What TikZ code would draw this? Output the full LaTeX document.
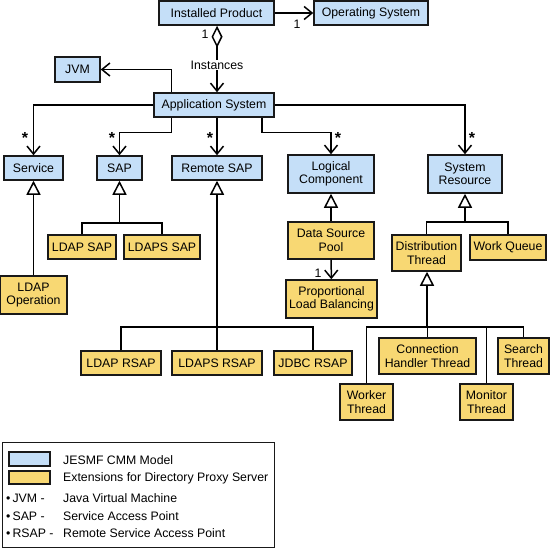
\documentclass[tikz,border=0pt]{standalone}
\usepackage{fontspec}
\setmainfont{Liberation Sans}
\usetikzlibrary{arrows.meta}
\definecolor{cmmblue}{RGB}{197,223,248}
\definecolor{extyellow}{RGB}{248,216,115}
\tikzset{
  box/.style={draw=black!90,line width=1.5pt,inner sep=1pt,align=center,
    font=\fontsize{12.3}{13.5}\selectfont},
  cmm/.style={box,fill=cmmblue},
  ext/.style={box,fill=extyellow},
  mult/.style={inner sep=0pt,font=\fontsize{12.3}{13.5}\selectfont},
  star/.style={inner sep=0pt,font=\fontsize{16}{16}\selectfont\bfseries},
  assoc/.style={line width=1.5pt,-{Straight Barb[length=8pt,width=13pt,line width=1.5pt]}},
  inherit/.style={line width=1.5pt,-{Triangle[open,length=14pt,width=14pt,line width=1.5pt]}},
  plain/.style={line width=1.5pt}
}
\begin{document}
\begin{tikzpicture}[x=1pt,y=-1pt]
\useasboundingbox (0,0) rectangle (550,549);
% model classes
\node[cmm,minimum width=115,minimum height=24] (prod) at (216.5,13) {Installed Product};
\node[cmm,minimum width=114,minimum height=24] (os) at (371,13) {Operating System};
\node[cmm,minimum width=45,minimum height=25] (jvm) at (77.5,69.5) {JVM};
\node[cmm,minimum width=120,minimum height=24] (app) at (214,105) {Application System};
\node[cmm,minimum width=59,minimum height=24] (service) at (33.5,168) {Service};
\node[cmm,minimum width=45,minimum height=24] (sap) at (119.5,168) {SAP};
\node[cmm,minimum width=90,minimum height=24] (rsap) at (217,168) {Remote SAP};
\node[cmm,minimum width=86,minimum height=38] (lc) at (331,174) {Logical\\Component};
\node[cmm,minimum width=74,minimum height=38] (sr) at (465,174) {System\\Resource};
% extensions
\node[ext,minimum width=67,minimum height=38] (ldapop) at (33.5,295) {LDAP\\Operation};
\node[ext,minimum width=68,minimum height=24] (ldapsap) at (82,247) {LDAP SAP};
\node[ext,minimum width=76,minimum height=24] (ldapssap) at (162,247) {LDAPS SAP};
\node[ext,minimum width=80,minimum height=24] (ldaprsap) at (121,363) {LDAP RSAP};
\node[ext,minimum width=90,minimum height=24] (ldapsrsap) at (217,363) {LDAPS RSAP};
\node[ext,minimum width=78,minimum height=24] (jdbcrsap) at (313,363) {JDBC RSAP};
\node[ext,minimum width=86,minimum height=37] (dsp) at (331,240.5) {Data Source\\Pool};
\node[ext,minimum width=91,minimum height=38] (plb) at (331.5,299) {Proportional\\Load Balancing};
\node[ext,minimum width=69,minimum height=36] (dt) at (426.5,253) {Distribution\\Thread};
\node[ext,minimum width=76,minimum height=25] (wq) at (508,247.5) {Work Queue};
\node[ext,minimum width=97,minimum height=36] (cht) at (427.5,356) {Connection\\Handler Thread};
\node[ext,minimum width=51,minimum height=36] (search) at (523.5,356) {Search\\Thread};
\node[ext,minimum width=53,minimum height=36] (worker) at (366.5,402) {Worker\\Thread};
\node[ext,minimum width=53,minimum height=36] (monitor) at (486.5,402) {Monitor\\Thread};
% bus points
\coordinate (sapbus) at (119.5,223);
\coordinate (srbus) at (465,222);
\coordinate (rsapbus) at (217,327);
\coordinate (dtbus) at (427,327);
% associations
\draw[assoc] (prod) -- (os);
\draw[assoc,{Diamond[open,length=22pt,width=11pt,line width=1.5pt]}-{Straight Barb[length=8pt,width=13pt,line width=1.5pt]}]
  (prod.south -| rsap.north) -- node[mult,fill=white,inner sep=1pt,pos=0.59] (inst) {Instances} (app.north -| rsap.north);
\draw[assoc] ([xshift=18pt]app.north west) |- (jvm.east);
\draw[assoc] (app.west) -| (service.north);
\draw[assoc] ([xshift=18pt]app.south west) |- ([yshift=23pt]sap.north) -- (sap.north);
\draw[assoc] (app.south -| rsap.north) -- (rsap.north);
\draw[assoc] ([xshift=-13pt]app.south east) |- ([yshift=22pt]lc.north) -- (lc.north);
\draw[assoc] (app.east) -| (sr.north);
\draw[assoc] (dsp) -- (plb);
% inheritance
\draw[inherit] (ldapop.north -| service.south) -- (service.south);
\draw[plain] (ldapsap.north) |- (sapbus) -| (ldapssap.north);
\draw[inherit] (sapbus) -- (sap.south);
\draw[plain] (ldaprsap.north) |- (rsapbus) -| (jdbcrsap.north);
\draw[plain] (ldapsrsap.north) -- (rsapbus);
\draw[inherit] (rsapbus) -- (rsap.south);
\draw[inherit] (dsp) -- (lc);
\draw[plain] (dt.north) |- (srbus) -| (wq.north);
\draw[inherit] (srbus) -- (sr.south);
\draw[plain] (worker.north) |- (dtbus) -| (search.north);
\draw[plain] (monitor.north) -- (monitor.north |- dtbus);
\draw[plain] (cht.north) -- (cht.north |- dtbus);
\draw[inherit] (dtbus) -- (dt.south -| dtbus);
% multiplicities
\node[mult] (m1) at (205,34) {1};
\node[mult] (m2) at (297,24) {1};
\node[mult] (m3) at (318,273) {1};
\node[star] (s1) at (25,138) {*};
\node[star] (s2) at (112,138) {*};
\node[star] (s3) at (210,138) {*};
\node[star] (s4) at (338,138) {*};
\node[star] (s5) at (472,138) {*};
% legend
\draw[line width=1pt,draw=black!90] (2,442) rectangle (274,547);
\node[cmm,minimum width=41,minimum height=14] (keycmm) at (29.5,459) {};
\node[ext,minimum width=41,minimum height=13] (keyext) at (29.5,477.5) {};
\node[mult,anchor=west] (lcmm) at (63,460) {JESMF CMM Model};
\node[mult,anchor=west] (lext) at (63,478) {Extensions for Directory Proxy Server};
\node[mult,anchor=west] (ajvm) at (6,498) {\textbullet\,JVM -};
\node[mult,anchor=west] (ljvm) at (63,498) {Java Virtual Machine};
\node[mult,anchor=west] (asap) at (6,516) {\textbullet\,SAP -};
\node[mult,anchor=west] (lsap) at (63,516) {Service Access Point};
\node[mult,anchor=west] (arsap) at (6,533) {\textbullet\,RSAP -};
\node[mult,anchor=west] (lrsap) at (63,533) {Remote Service Access Point};
\end{tikzpicture}
\end{document}
